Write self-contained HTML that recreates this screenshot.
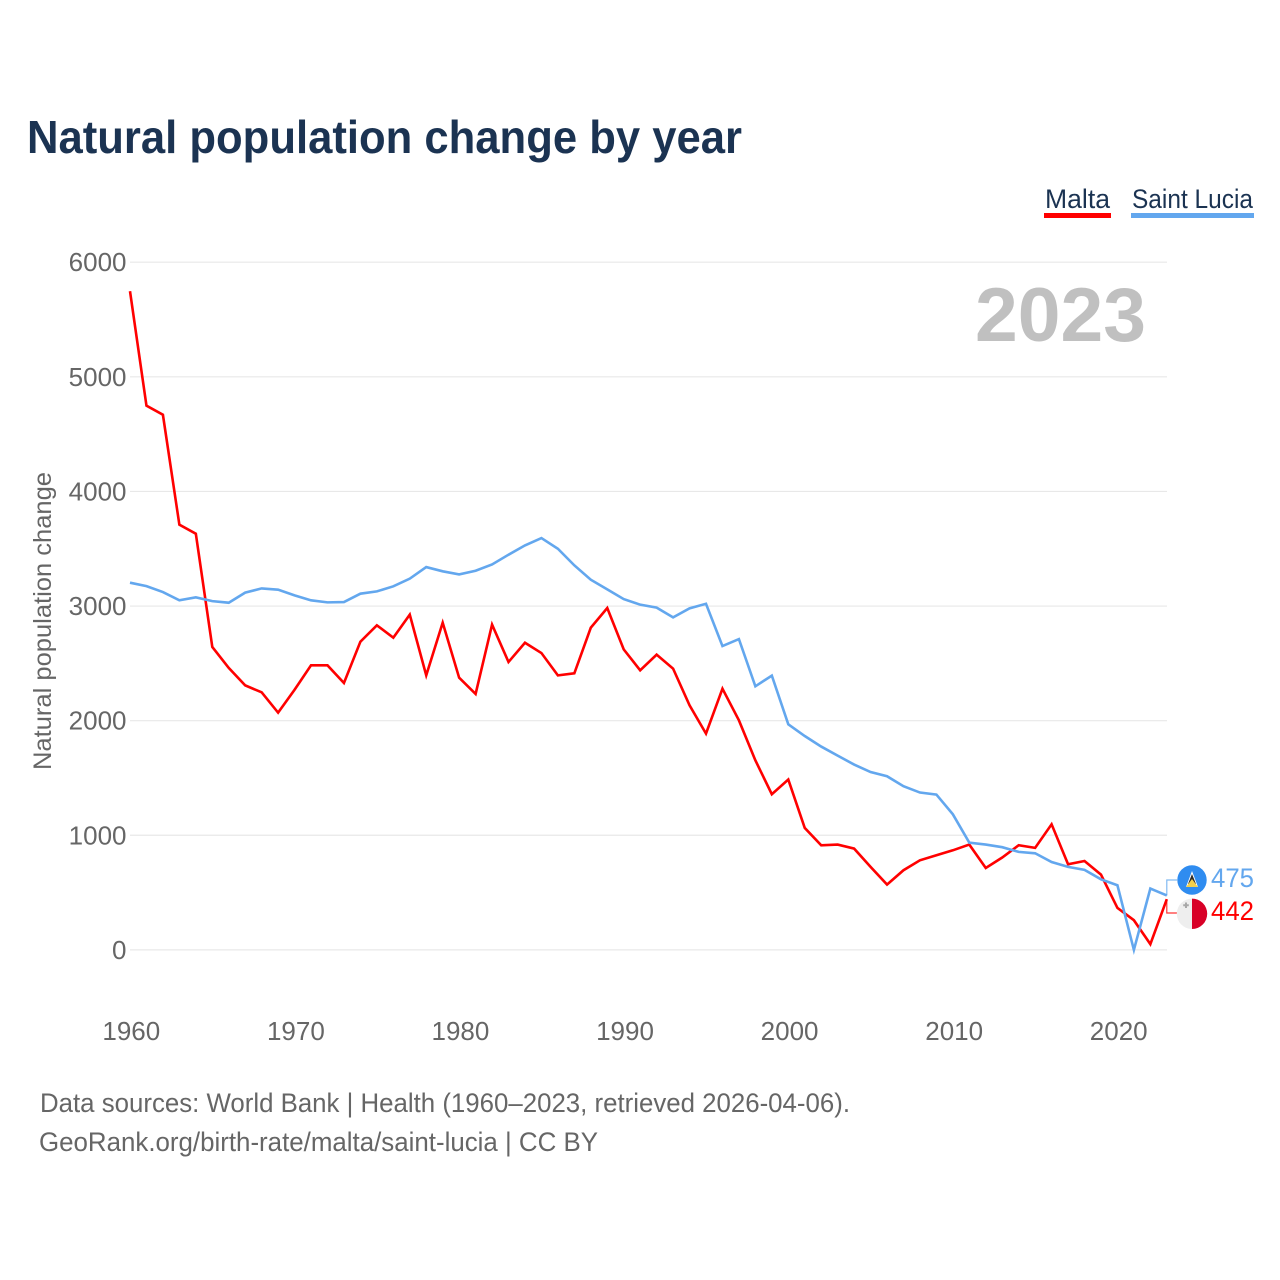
<!DOCTYPE html>
<html lang="en">
<head>
<meta charset="utf-8">
<title>Natural population change by year</title>
<style>
html,body{margin:0;padding:0;background:#fff;}
svg{display:block;font-family:"Liberation Sans",sans-serif;}
</style>
</head>
<body>
<svg id="chart" xmlns="http://www.w3.org/2000/svg" width="1280" height="1280" viewBox="0 0 1280 1280">
  <rect x="0" y="0" width="1280" height="1280" fill="#fff"/>
  <text x="27" y="153" font-size="46" font-weight="700" fill="#1b3352" textLength="715" lengthAdjust="spacingAndGlyphs">Natural population change by year</text>
  <g>
    <text x="1045" y="208" font-size="27" fill="#1b3352" textLength="65" lengthAdjust="spacingAndGlyphs">Malta</text>
    <rect x="1044" y="213" width="67" height="5" fill="#ff0000"/>
  </g>
  <g>
    <text x="1132" y="208" font-size="27" fill="#1b3352" textLength="121" lengthAdjust="spacingAndGlyphs">Saint Lucia</text>
    <rect x="1131" y="213" width="123" height="5" fill="#63a7ee"/>
  </g>
  <g id="grid"></g>
  <text x="975" y="341" font-size="76" font-weight="700" fill="#c0c0c0" textLength="171" lengthAdjust="spacingAndGlyphs">2023</text>
  <g id="yticks"></g>
  <g id="xticks"></g>
  <text transform="translate(51 621) rotate(-90)" text-anchor="middle" font-size="25" fill="#666" textLength="298" lengthAdjust="spacingAndGlyphs">Natural population change</text>
  <g id="series"></g>
  <g id="endlabels"></g>
  <g>
    <circle cx="1192" cy="880" r="14.7" fill="#2f8cf0"/>
    <polygon points="1192,871 1198,887 1186,887" fill="#fff"/>
    <polygon points="1192,874 1196,884 1188,884" fill="#2b2b2b"/>
    <polygon points="1192,879 1198,887 1186,887" fill="#f5d04a"/>
  </g>
  <g>
    <circle cx="1192" cy="913.8" r="15.2" fill="#eeeeee"/>
    <path d="M1192 898.6a15.2 15.2 0 0 1 0 30.4z" fill="#d80027"/>
    <path d="M1186 902.5v5.5M1183.2 905.2h5.6" stroke="#a8a8a8" stroke-width="2" fill="none"/>
  </g>
  <text x="40" y="1112" font-size="27" fill="#666" textLength="810" lengthAdjust="spacingAndGlyphs">Data sources: World Bank | Health (1960–2023, retrieved 2026-04-06).</text>
  <text x="39" y="1151" font-size="27" fill="#666" textLength="559" lengthAdjust="spacingAndGlyphs">GeoRank.org/birth-rate/malta/saint-lucia | CC BY</text>
</svg>
<script>
const startYear = 1960;
const yTickValues = [0, 1000, 2000, 3000, 4000, 5000, 6000];
const xTickYears = [1960, 1970, 1980, 1990, 2000, 2010, 2020];
const maltaValues = [5747, 4748, 4669, 3710, 3631, 2643, 2460, 2308, 2247, 2070,
  2270, 2483, 2483, 2329, 2689, 2832, 2724, 2925, 2395, 2855,
  2375, 2233, 2838, 2512, 2680, 2590, 2395, 2413, 2811, 2983,
  2622, 2439, 2576, 2454, 2134, 1887, 2279, 2003, 1654, 1358,
  1486, 1064, 913, 919, 884, 724, 570, 695, 782, 826,
  869, 919, 715, 806, 913, 890, 1096, 747, 776, 657,
  366, 259, 50, 442];
const saintLuciaValues = [3204, 3174, 3122, 3050, 3076, 3043, 3029, 3117, 3154, 3143,
  3093, 3050, 3032, 3035, 3108, 3128, 3172, 3239, 3340, 3303,
  3276, 3308, 3363, 3448, 3529, 3593, 3500, 3355, 3230, 3145,
  3061, 3012, 2986, 2901, 2980, 3020, 2651, 2712, 2300, 2393,
  1968, 1866, 1774, 1695, 1617, 1552, 1515, 1428, 1373, 1355,
  1183, 936, 919, 896, 855, 843, 767, 724, 698, 616,
  564, 0, 535, 475];

const NS = 'http://www.w3.org/2000/svg';
function xScale(year) { return 130 + (year - 1960) * (1166.8 - 130) / 63; }
function yScale(value) { return 949.9 - value * (949.9 - 262.2) / 6000; }
function make(tag, attrs, parent) {
  const el = document.createElementNS(NS, tag);
  for (const k in attrs) el.setAttribute(k, attrs[k]);
  parent.appendChild(el);
  return el;
}
const grid = document.getElementById('grid');
const yticks = document.getElementById('yticks');
const xticks = document.getElementById('xticks');
const seriesGroup = document.getElementById('series');
const endLabels = document.getElementById('endlabels');

yTickValues.forEach(function (v) {
  const line = make('line', {x1: 130, x2: 1167, y1: yScale(v), y2: yScale(v), stroke: '#e8e8e8', 'stroke-width': 1.2}, grid);
  
  
  const label = make('text', {x: 126.5, y: yScale(v) + 9, 'text-anchor': 'end', 'font-size': 26, fill: '#666'}, yticks);
  
  
  label.textContent = String(v);
});

xTickYears.forEach(function (yr) {
  const label = make('text', {x: xScale(yr) + 1.3, y: 1040, 'text-anchor': 'middle', 'font-size': 26, fill: '#666'}, xticks);
  
  
  label.textContent = String(yr);
});

function drawSeries(values, color, name, labelY, connectorX) {
  const pts = values.map(function (v, i) { return xScale(startYear + i).toFixed(2) + ',' + yScale(v).toFixed(2); }).join(' ');
  const line = make('polyline', {points: pts, fill: 'none', stroke: color, 'stroke-width': 2.6, 'stroke-linejoin': 'miter'}, seriesGroup);
  
  
  const last = values[values.length - 1];
  const lastX = xScale(startYear + values.length - 1);
  const connector = make('polyline', {points: lastX + ',' + yScale(last) + ' ' + lastX + ',' + labelY + ' ' + connectorX + ',' + labelY, fill: 'none', stroke: color, 'stroke-width': 1.2, opacity: 0.8}, endLabels);
  
  
  const label = make('text', {x: 1211, y: labelY + 7, 'font-size': 26.5, fill: color, textLength: 43, lengthAdjust: 'spacingAndGlyphs'}, endLabels);
  
  
  label.textContent = String(last);
}
drawSeries(maltaValues, '#ff0000', 'malta', 913, 1177);
drawSeries(saintLuciaValues, '#63a7ee', 'saint-lucia', 880, 1177);
</script>
</body>
</html>
